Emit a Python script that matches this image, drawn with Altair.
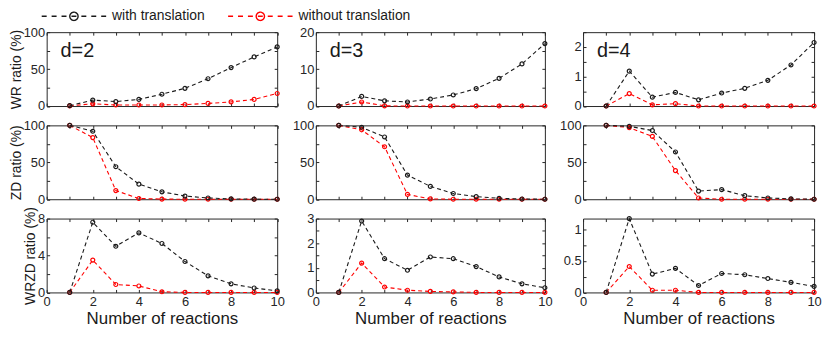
import math
import altair as alt
import pandas as pd

FONT = "Liberation Sans"
INK = "#262626"

reactions = [1, 2, 3, 4, 5, 6, 7, 8, 9, 10]
x_ticks = [0, 1, 2, 3, 4, 5, 6, 7, 8, 9, 10]
series_names = ["with translation", "without translation"]
series_colors = ["#1a1a1a", "#ff0000"]
d_labels = ["d=2", "d=3", "d=4"]
metric_titles = ["WR ratio (%)", "ZD ratio (%)", "WRZD ratio (%)"]

# WR ratio (%)
wr_d2_with = [0.5, 8, 6, 9, 16, 24, 37, 52, 66.5, 80]
wr_d2_without = [0.2, 3, 1.4, 1.4, 1.4, 2, 3.5, 5.6, 9, 17]
wr_d3_with = [0, 2.6, 1.4, 1.1, 1.9, 3.0, 4.7, 7.5, 11.4, 16.9]
wr_d3_without = [0, 1.1, 0.05, 0, 0, 0, 0, 0, 0, 0]
wr_d4_with = [0, 1.18, 0.3, 0.46, 0.21, 0.44, 0.6, 0.87, 1.39, 2.15]
wr_d4_without = [0, 0.42, 0.04, 0.08, 0, 0, 0, 0, 0, 0]
# ZD ratio (%)
zd_d2_with = [100, 92, 44, 20.4, 10, 4.3, 1.7, 0.5, 0.1, 0]
zd_d2_without = [100, 83.5, 11.7, 1, 0.2, 0, 0, 0, 0, 0]
zd_d3_with = [100, 97.4, 84.3, 32.6, 17.4, 7.8, 3.5, 1.3, 0.3, 0]
zd_d3_without = [100, 94, 71, 6.5, 0.4, 0, 0, 0, 0, 0]
zd_d4_with = [100, 98.7, 93, 64, 11, 13, 4.8, 1.7, 0.5, 0]
zd_d4_without = [100, 97, 85, 38.7, 1.7, 0, 0, 0, 0, 0]
# WRZD ratio (%)
wrzd_d2_with = [0, 7.6, 5.0, 6.45, 5.3, 3.35, 1.8, 0.93, 0.48, 0.17]
wrzd_d2_without = [0, 3.5, 0.86, 0.7, 0.07, 0, 0, 0, 0, 0]
wrzd_d3_with = [0, 2.9, 1.37, 0.9, 1.44, 1.37, 1.05, 0.63, 0.35, 0.19]
wrzd_d3_without = [0, 1.19, 0.22, 0.09, 0.04, 0.02, 0, 0, 0, 0]
wrzd_d4_with = [0, 1.17, 0.29, 0.38, 0.11, 0.3, 0.28, 0.22, 0.16, 0.095]
wrzd_d4_without = [0, 0.41, 0.035, 0.035, 0, 0, 0, 0, 0, 0]

with_series = [[wr_d2_with, wr_d3_with, wr_d4_with],
               [zd_d2_with, zd_d3_with, zd_d4_with],
               [wrzd_d2_with, wrzd_d3_with, wrzd_d4_with]]
without_series = [[wr_d2_without, wr_d3_without, wr_d4_without],
                  [zd_d2_without, zd_d3_without, zd_d4_without],
                  [wrzd_d2_without, wrzd_d3_without, wrzd_d4_without]]

y_tops = [[100, 20, 2.5], [100, 100, 100], [8, 3, 1.17]]
y_ticks = [[[0, 25, 50, 75, 100], [0, 5, 10, 15, 20], [0, 0.5, 1, 1.5, 2, 2.5]],
           [[0, 25, 50, 75, 100]] * 3,
           [[0, 2, 4, 6, 8], [0, 0.5, 1, 1.5, 2, 2.5, 3], [0, 0.25, 0.5, 0.75, 1]]]
y_label_steps = [[50, 10, 1], [50, 50, 50], [4, 1, 0.5]]

panel_widths = [232.5, 231, 233]
panel_height = 74.5

SYMBOL_HALF = 32.5  # half length of the legend symbol in px


def legend_symbol_path():
    u = SYMBOL_HALF  # path is normalised to [-1, 1]
    parts = []
    for a, b in [(-32.5, -27.5), (-22.5, -17.5), (-12.5, -7.5), (-2.5, 2.5),
                 (7.5, 12.5), (17.5, 22.5), (27.5, 32.5)]:
        parts.append(f"M{a / u:.4f},0L{b / u:.4f},0")
    r = 4.2 / u
    pts = [(r * math.cos(2 * math.pi * k / 20), r * math.sin(2 * math.pi * k / 20)) for k in range(20)]
    parts.append("M" + "L".join(f"{px:.4f},{py:.4f}" for px, py in pts) + "Z")
    return "".join(parts)


legend = alt.Legend(
    title=None, orient="none", legendX=-6, legendY=-23, direction="horizontal",
    symbolType=legend_symbol_path(), symbolSize=(2 * SYMBOL_HALF) ** 2, symbolStrokeWidth=1.4,
    symbolDash=[1, 0], symbolFillColor="transparent", symbolOffset=0, clipHeight=14,
    labelFont=FONT, labelFontSize=14, labelColor="#1a1a1a", labelOffset=5,
    columnPadding=22, padding=0,
)


def label_expr(step):
    return (f"abs(datum.value / {step} - round(datum.value / {step})) < 0.001"
            f" ? format(datum.value, '~g') : ''")


def panel(row, col):
    n = len(reactions)
    df = pd.DataFrame({
        "reactions": reactions + reactions,
        "ratio": without_series[row][col] + with_series[row][col],
        "series": [series_names[1]] * n + [series_names[0]] * n,
    })
    xscale = alt.Scale(domain=[0, 10], nice=False, zero=False)
    yscale = alt.Scale(domain=[0, y_tops[row][col]], nice=False, zero=True)
    color = alt.Color("series:N", scale=alt.Scale(domain=series_names, range=series_colors),
                      legend=legend)
    common = dict(offset=-3, tickSize=3, domain=False, grid=False, labelOverlap=False,
                  labelFlush=False, labelFont=FONT, labelFontSize=13, labelColor=INK,
                  tickColor=INK, tickWidth=1, titleFont=FONT, titleFontWeight="normal",
                  titleColor="#1a1a1a")
    bottom_axis = alt.Axis(orient="bottom", values=x_ticks, labelExpr=label_expr(2),
                           labels=(row == 2),
                           title=("Number of reactions" if row == 2 else None),
                           titleFontSize=17, titlePadding=2, labelPadding=3, **common)
    left_axis = alt.Axis(orient="left", values=y_ticks[row][col],
                         labelExpr=label_expr(y_label_steps[row][col]),
                         title=(metric_titles[row] if col == 0 else None),
                         titleFontSize=14, labelPadding=2, titlePadding=0, **common)
    top_axis = alt.Axis(orient="top", values=x_ticks, labels=False, title=None, **common)
    right_axis = alt.Axis(orient="right", values=y_ticks[row][col], labels=False, title=None,
                          **common)

    lines = alt.Chart(df).mark_line(strokeDash=[4, 3], strokeWidth=1.1).encode(
        x=alt.X("reactions:Q", scale=xscale, axis=bottom_axis),
        y=alt.Y("ratio:Q", scale=yscale, axis=left_axis),
        color=color,
    )
    points = alt.Chart(df).mark_point(shape="circle", filled=False, size=16,
                                      strokeWidth=1.2, opacity=1).encode(
        x=alt.X("reactions:Q", scale=xscale, axis=top_axis),
        y=alt.Y("ratio:Q", scale=yscale, axis=right_axis),
        color=color,
    )
    layers = [lines, points]
    if row == 0:
        label = alt.Chart(pd.DataFrame({"label": [d_labels[col]]})).mark_text(
            align="left", baseline="alphabetic", font=FONT, fontSize=20, color="#1a1a1a"
        ).encode(text="label:N", x=alt.value(14), y=alt.value(25.5))
        layers.append(label)
    return alt.layer(*layers).resolve_axis(x="independent", y="independent").properties(
        width=panel_widths[col], height=panel_height)


panels = [panel(r, c) for r in range(3) for c in range(3)]

chart = alt.concat(
    *panels, columns=3, spacing={"row": 19, "column": 38.5}, bounds="flush"
).properties(
    padding={"left": 0, "top": 0, "right": 0, "bottom": 0}
).configure_view(
    stroke=INK, strokeWidth=1, fill=None
)

chart.save("out.html", embed_options={"renderer": "svg", "actions": False})
